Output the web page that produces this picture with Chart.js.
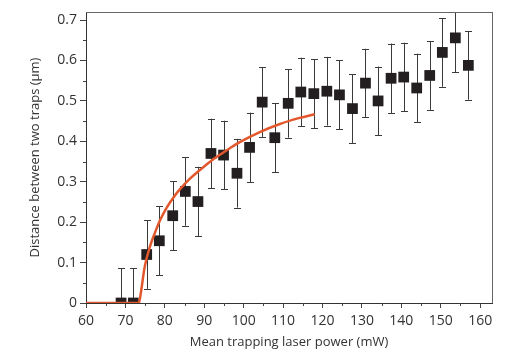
<!DOCTYPE html>
<html>
<head>
<meta charset="utf-8">
<script src="https://cdn.jsdelivr.net/npm/chart.js"></script>
<style>
  html, body { margin: 0; padding: 0; background: #fff; }
</style>
</head>
<body>
<canvas id="myChart" width="506" height="363"></canvas>
<script>
var powerValues = [68.9, 72.0, 75.4, 78.6, 82.0, 85.2, 88.4, 91.7, 94.9, 98.3, 101.5, 104.7, 107.9, 111.3,
  114.5, 117.8, 121.1, 124.3, 127.6, 130.9, 134.1, 137.4, 140.6, 143.9, 147.2, 150.4, 153.7, 157.0];
var distValues = [0, 0, 0.12, 0.154, 0.216, 0.276, 0.251, 0.370, 0.366, 0.321, 0.385, 0.497, 0.409, 0.494,
  0.522, 0.518, 0.524, 0.515, 0.481, 0.544, 0.500, 0.556, 0.559, 0.532, 0.563, 0.620, 0.656, 0.588];
var errValues = [0.086, 0.086, 0.085, 0.085, 0.085, 0.085, 0.086, 0.086, 0.085, 0.085, 0.086, 0.086, 0.085, 0.085,
  0.085, 0.085, 0.085, 0.085, 0.085, 0.085, 0.085, 0.086, 0.085, 0.085, 0.085, 0.085, 0.085, 0.085];
var fitPower = [60, 73.4, 73.7, 74.9, 76.2, 77.5, 78.7, 80.4, 82.1, 83.8, 86.3, 88.9, 91.4, 94.0, 96.5, 99.0,
  104.1, 109.2, 114.2, 118.0];
var fitDist = [0, 0, 0.012, 0.09, 0.139, 0.174, 0.203, 0.235, 0.260, 0.281, 0.307, 0.329, 0.349, 0.367, 0.383, 0.398,
  0.423, 0.443, 0.458, 0.467];
var xTicks = [60, 70, 80, 90, 100, 110, 120, 130, 140, 150, 160];
var yTicks = [0, 0.1, 0.2, 0.3, 0.4, 0.5, 0.6, 0.7];
var xMinor = [65, 75, 85, 95, 105, 115, 125, 135, 145, 155];
var yMinor = [0.05, 0.15, 0.25, 0.35, 0.45, 0.55, 0.65];

var pts = powerValues.map(function (p, i) { return { x: p, y: distValues[i] }; });
var fit = fitPower.map(function (p, i) { return { x: p, y: fitDist[i] }; });

var txt = '#333';
var fnt = "'Open Sans', sans-serif";

// error bars + minor ticks + top/right frame
var extras = {
  id: 'extras',
  beforeDatasetsDraw: function (chart) {
    var ctx = chart.ctx, xs = chart.scales.x, ys = chart.scales.y, a = chart.chartArea;
    ctx.save();
    ctx.beginPath();
    ctx.rect(a.left, a.top, a.right - a.left, a.bottom - a.top);
    ctx.clip();
    ctx.strokeStyle = '#3a3a3a';
    ctx.lineWidth = 1;
    for (var i = 0; i < powerValues.length; i++) {
      var px = Math.round(xs.getPixelForValue(powerValues[i])) + 0.5;
      var t = ys.getPixelForValue(distValues[i] + errValues[i]);
      var b = ys.getPixelForValue(distValues[i] - errValues[i]);
      ctx.beginPath();
      ctx.moveTo(px, t); ctx.lineTo(px, b);
      ctx.moveTo(px - 3.5, Math.round(t) + 0.5); ctx.lineTo(px + 3.5, Math.round(t) + 0.5);
      ctx.moveTo(px - 3.5, Math.round(b) + 0.5); ctx.lineTo(px + 3.5, Math.round(b) + 0.5);
      ctx.stroke();
    }
    ctx.restore();
  },
  afterDraw: function (chart) {
    var ctx = chart.ctx, xs = chart.scales.x, ys = chart.scales.y, a = chart.chartArea;
    ctx.save();
    ctx.strokeStyle = '#444';
    ctx.lineWidth = 1;
    ctx.beginPath();
    xMinor.forEach(function (v) {
      var px = Math.round(xs.getPixelForValue(v)) + 0.5;
      ctx.moveTo(px, a.bottom); ctx.lineTo(px, a.bottom + 3);
    });
    yMinor.forEach(function (v) {
      var py = Math.round(ys.getPixelForValue(v)) + 0.5;
      ctx.moveTo(a.left, py); ctx.lineTo(a.left - 3, py);
    });
    ctx.stroke();
    ctx.strokeStyle = '#666';
    ctx.beginPath();
    ctx.moveTo(a.left, a.top + 0.5); ctx.lineTo(a.right + 0.5, a.top + 0.5);
    ctx.moveTo(a.right + 0.5, a.top); ctx.lineTo(a.right + 0.5, a.bottom);
    ctx.stroke();
    ctx.restore();
  }
};

new Chart('myChart', {
  type: 'scatter',
  data: {
    datasets: [{
      type: 'line',
      data: fit,
      borderColor: '#e2572b',
      borderWidth: 2.5,
      pointRadius: 0,
      cubicInterpolationMode: 'monotone',
      fill: false
    }, {
      data: pts,
      pointStyle: 'rect',
      pointRadius: 7.6,
      backgroundColor: '#231f20',
      borderColor: '#231f20',
      borderWidth: 0
    }]
  },
  options: {
    responsive: false,
    animation: false,
    layout: { padding: { top: 12, right: 14, left: 27, bottom: 9 } },
    plugins: { legend: { display: false }, tooltip: { enabled: false } },
    scales: {
      x: {
        type: 'linear',
        min: 60,
        max: 163,
        afterBuildTicks: function (s) { s.ticks = xTicks.map(function (v) { return { value: v }; }); },
        afterFit: function (s) { s.height = 51; },
        grid: { drawOnChartArea: false, tickLength: 5, color: '#444' },
        border: { color: '#333', width: 1 },
        ticks: { color: txt, font: { family: fnt, size: 14 }, padding: 5, maxRotation: 0 },
        title: { display: true, text: 'Mean trapping laser power (mW)', color: txt, font: { family: fnt, size: 13 }, padding: { top: 2 } }
      },
      y: {
        min: 0,
        max: 0.72,
        afterBuildTicks: function (s) { s.ticks = yTicks.map(function (v) { return { value: v }; }); },
        afterFit: function (s) { s.width = 59; },
        grid: { drawOnChartArea: false, tickLength: 6, color: '#444' },
        border: { color: '#333', width: 1 },
        ticks: {
          color: txt, font: { family: fnt, size: 14 }, padding: 3,
          callback: function (v) { return v === 0 ? '0' : v.toFixed(1); }
        },
        title: { display: true, text: 'Distance between two traps (μm)', color: txt, font: { family: fnt, size: 13 }, padding: { top: 0, bottom: 4 } }
      }
    }
  },
  plugins: [extras]
});
</script>
</body>
</html>
